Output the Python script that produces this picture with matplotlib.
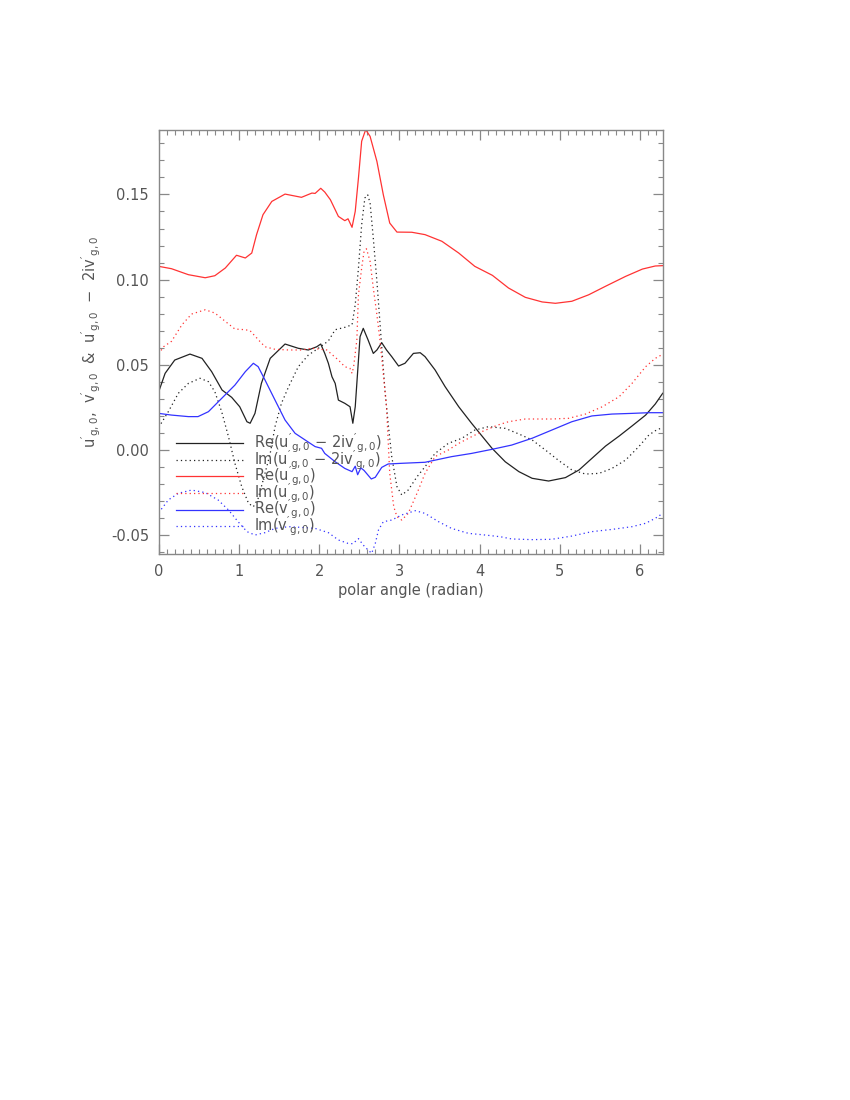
import numpy as np
import matplotlib
matplotlib.use("Agg")
import matplotlib.pyplot as plt
from matplotlib.ticker import MultipleLocator, FormatStrFormatter

plt.rcParams['font.family'] = ['DejaVu Sans']
plt.rcParams['mathtext.default'] = 'regular'
plt.rcParams['axes.unicode_minus'] = True

# ---- data ----
x_re_u = [0, 0.16, 0.37, 0.58, 0.70, 0.83, 0.97, 1.08, 1.16, 1.22, 1.30, 1.41, 1.575, 1.78, 1.91,
          1.95, 2.02, 2.07, 2.14, 2.24, 2.32, 2.36, 2.41, 2.45, 2.49, 2.53, 2.58, 2.635, 2.72, 2.80,
          2.88, 2.97, 3.155, 3.32, 3.53, 3.74, 3.94, 4.16, 4.36, 4.57, 4.78, 4.945, 5.15, 5.36, 5.57,
          5.82, 6.03, 6.19, 6.283]
re_u = [0.1078, 0.1064, 0.1029, 0.1011, 0.1023, 0.1068, 0.1143, 0.1127, 0.1156, 0.1264, 0.1381,
        0.1459, 0.1502, 0.1483, 0.1508, 0.1506, 0.1536, 0.1514, 0.1469, 0.1371, 0.1346, 0.1357,
        0.1307, 0.1401, 0.1596, 0.1812, 0.1880, 0.1841, 0.1694, 0.1498, 0.1332, 0.1279, 0.1278,
        0.1264, 0.1225, 0.1156, 0.1078, 0.1025, 0.0951, 0.0896, 0.0869, 0.0861, 0.0873, 0.0911,
        0.0961, 0.1019, 0.1062, 0.1080, 0.1082]

x_im_u = [0, 0.06, 0.16, 0.29, 0.41, 0.58, 0.70, 0.83, 0.95, 1.08, 1.14, 1.26, 1.325, 1.45, 1.62,
          1.78, 1.91, 2.095, 2.24, 2.32, 2.385, 2.41, 2.43, 2.47, 2.49, 2.53, 2.56, 2.59, 2.635,
          2.675, 2.72, 2.76, 2.84, 2.88, 2.93, 2.97, 3.03, 3.11, 3.22, 3.32, 3.445, 3.61, 3.74,
          3.90, 4.03, 4.23, 4.36, 4.57, 4.90, 5.11, 5.32, 5.53, 5.74, 5.90, 6.07, 6.19, 6.283]
im_u = [0.0563, 0.0606, 0.0638, 0.0735, 0.0798, 0.0823, 0.0804, 0.0755, 0.0710, 0.0706, 0.0700,
        0.0638, 0.0606, 0.0591, 0.0587, 0.0587, 0.0597, 0.0587, 0.0528, 0.0489, 0.0479, 0.0450,
        0.0489, 0.0646, 0.0911, 0.1068, 0.1166, 0.1181, 0.1107, 0.0951, 0.0794, 0.0638, 0.0254,
        -0.0137, -0.0333, -0.0391, -0.0411, -0.0372, -0.0254, -0.0137, -0.0039, 0.0, 0.0039,
        0.0078, 0.0108, 0.0147, 0.0166, 0.0182, 0.0182, 0.0186, 0.0211, 0.0254, 0.0313, 0.0391,
        0.0489, 0.0538, 0.0562]

x_re_w = [0, 0.08, 0.20, 0.39, 0.54, 0.66, 0.79, 0.91, 1.01, 1.10, 1.14, 1.20, 1.28, 1.39, 1.575,
          1.74, 1.865, 1.97, 2.02, 2.07, 2.115, 2.16, 2.20, 2.24, 2.32, 2.385, 2.42, 2.45, 2.49,
          2.51, 2.55, 2.61, 2.675, 2.72, 2.78, 2.84, 2.905, 2.99, 3.07, 3.175, 3.26, 3.32, 3.445,
          3.57, 3.74, 3.90, 4.07, 4.155, 4.32, 4.49, 4.655, 4.86, 5.07, 5.24, 5.40, 5.57, 5.74,
          5.90, 6.07, 6.19, 6.283]
re_w = [0.0342, 0.0450, 0.0528, 0.0563, 0.0538, 0.0460, 0.0352, 0.0309, 0.0254, 0.0166, 0.0157,
        0.0215, 0.0391, 0.0538, 0.0622, 0.0597, 0.0587, 0.0606, 0.0622, 0.0567, 0.0509, 0.0430,
        0.0391, 0.0293, 0.0274, 0.0254, 0.0157, 0.0254, 0.0528, 0.0665, 0.0714, 0.0646, 0.0567,
        0.0587, 0.0630, 0.0587, 0.0548, 0.0493, 0.0509, 0.0567, 0.0571, 0.0548, 0.0470, 0.0372,
        0.0254, 0.0157, 0.0059, 0.0010, -0.0069, -0.0127, -0.0166, -0.0182, -0.0162, -0.0117,
        -0.0049, 0.0023, 0.0082, 0.0141, 0.0205, 0.0270, 0.0333]

x_im_w = [0, 0.12, 0.245, 0.37, 0.515, 0.62, 0.70, 0.785, 0.87, 0.95, 1.035, 1.12, 1.18, 1.24,
          1.325, 1.39, 1.45, 1.53, 1.62, 1.74, 1.865, 1.99, 2.115, 2.20, 2.32, 2.41, 2.45, 2.49,
          2.53, 2.57, 2.605, 2.635, 2.675, 2.72, 2.76, 2.82, 2.86, 2.905, 2.97, 3.03, 3.11, 3.22,
          3.32, 3.445, 3.61, 3.78, 3.94, 4.11, 4.32, 4.49, 4.655, 4.82, 4.99, 5.15, 5.32, 5.49,
          5.65, 5.82, 5.985, 6.11, 6.19, 6.283]
im_w = [0.0133, 0.0225, 0.0333, 0.0391, 0.0421, 0.0401, 0.0342, 0.0225, 0.0078, -0.0078, -0.0215,
        -0.0313, -0.0333, -0.0284, -0.0137, -0.0020, 0.0137, 0.0274, 0.0372, 0.0489, 0.0557,
        0.0597, 0.0640, 0.0706, 0.0720, 0.0735, 0.0853, 0.1068, 0.1322, 0.1479, 0.1498, 0.1450,
        0.1244, 0.0990, 0.0735, 0.0352, 0.0157, -0.0039, -0.0215, -0.0264, -0.0235, -0.0157,
        -0.0098, -0.0020, 0.0039, 0.0069, 0.0117, 0.0137, 0.0127, 0.0094, 0.0059, 0.0, -0.0063,
        -0.0117, -0.0141, -0.0137, -0.0108, -0.0059, 0.0020, 0.0088, 0.0113, 0.0133]

x_re_v = [0, 0.16, 0.37, 0.49, 0.62, 0.785, 0.95, 1.08, 1.18, 1.24, 1.325, 1.45, 1.575, 1.70,
          1.825, 1.95, 2.03, 2.07, 2.20, 2.32, 2.41, 2.45, 2.48, 2.52, 2.56, 2.65, 2.70, 2.78,
          2.86, 3.03, 3.32, 3.65, 3.90, 4.155, 4.40, 4.655, 4.90, 5.15, 5.40, 5.65, 5.90, 6.11,
          6.283]
re_v = [0.0215, 0.0205, 0.0196, 0.0196, 0.0225, 0.0303, 0.0381, 0.0460, 0.0509, 0.0489, 0.0411,
        0.0293, 0.0176, 0.0098, 0.0059, 0.0020, 0.0010, -0.0020, -0.0069, -0.0108, -0.0127,
        -0.0095, -0.0145, -0.0105, -0.0120, -0.0170, -0.0160, -0.0102, -0.0082, -0.0078, -0.0072,
        -0.0039, -0.0020, 0.0004, 0.0029, 0.0069, 0.0117, 0.0166, 0.0200, 0.0211, 0.0215, 0.0219,
        0.0219]

x_im_v = [0, 0.12, 0.245, 0.41, 0.58, 0.74, 0.87, 0.99, 1.10, 1.20, 1.325, 1.45, 1.62, 1.78,
          1.95, 2.115, 2.24, 2.36, 2.42, 2.49, 2.55, 2.61, 2.655, 2.70, 2.74, 2.80, 2.905, 3.03,
          3.20, 3.32, 3.49, 3.65, 3.86, 4.07, 4.26, 4.40, 4.655, 4.90, 5.15, 5.40, 5.65, 5.90,
          6.07, 6.19, 6.283]
im_v = [-0.0368, -0.0293, -0.0254, -0.0235, -0.0250, -0.0293, -0.0352, -0.0421, -0.0479, -0.0499,
        -0.0485, -0.0460, -0.0450, -0.0454, -0.0460, -0.0485, -0.0528, -0.0548, -0.0550, -0.0520,
        -0.0558, -0.0587, -0.0606, -0.0548, -0.0469, -0.0421, -0.0411, -0.0381, -0.0356, -0.0372,
        -0.0421, -0.0460, -0.0489, -0.0499, -0.0509, -0.0522, -0.0526, -0.0524, -0.0505, -0.0479,
        -0.0466, -0.0450, -0.0430, -0.0401, -0.0372]

labels = [r"Re($u'_{g,0}$ $-$ $2iv'_{g,0}$)",
          r"Im($u'_{g,0}$ $-$ $2iv'_{g,0}$)",
          r"Re($u'_{g,0}$)",
          r"Im($u'_{g,0}$)",
          r"Re($v'_{g,0}$)",
          r"Im($v'_{g,0}$)"]

# ---- figure ----
fig = plt.figure(figsize=(8.5, 11), dpi=100)
ax = fig.add_axes([0.1867, 0.4961, 0.593, 0.3857])

dot = (0, (1, 2.5))
c_k, c_r, c_b = '#222222', '#ff3333', '#3333ff'
lw = 0.9
ax.plot(x_re_w, re_w, color=c_k, lw=lw, ls='-', label=labels[0])
ax.plot(x_im_w, im_w, color=c_k, lw=lw, ls=dot, label=labels[1])
ax.plot(x_re_u, re_u, color=c_r, lw=lw, ls='-', label=labels[2])
ax.plot(x_im_u, im_u, color=c_r, lw=lw, ls=dot, label=labels[3])
ax.plot(x_re_v, re_v, color=c_b, lw=lw, ls='-', label=labels[4])
ax.plot(x_im_v, im_v, color=c_b, lw=lw, ls=dot, label=labels[5])

ax.set_xlim(0, 2 * np.pi)
ax.set_ylim(-0.0612, 0.1878)

axis_col = '#888888'
text_col = '#555555'
for s in ax.spines.values():
    s.set_color(axis_col)
    s.set_linewidth(1.0)

ax.xaxis.set_major_locator(MultipleLocator(1))
ax.xaxis.set_minor_locator(MultipleLocator(0.1))
ax.yaxis.set_major_locator(MultipleLocator(0.05))
ax.yaxis.set_minor_locator(MultipleLocator(0.01))
ax.yaxis.set_major_formatter(FormatStrFormatter('%.2f'))
ax.tick_params(which='both', direction='in', top=True, right=True, color=axis_col,
               labelcolor=text_col, labelsize=10.5)
ax.tick_params(which='major', length=7, width=0.9, pad=7)
ax.tick_params(which='minor', length=3.5, width=0.8)

ax.set_xlabel('polar angle (radian)', color=text_col, fontsize=10.5, labelpad=3)
ax.set_ylabel(r"$u'_{g,0}$,  $v'_{g,0}$  &  $u'_{g,0}$  $-$  $2iv'_{g,0}$",
              color=text_col, fontsize=10.5, labelpad=6)

leg = ax.legend(loc='upper left', bbox_to_anchor=(0.035, 0.289), frameon=False,
                fontsize=10.5, handlelength=4.6, handletextpad=0.7, labelspacing=-0.46,
                borderaxespad=0, borderpad=0)
for t in leg.get_texts():
    t.set_color(text_col)

fig.savefig('out.png', dpi=100)
